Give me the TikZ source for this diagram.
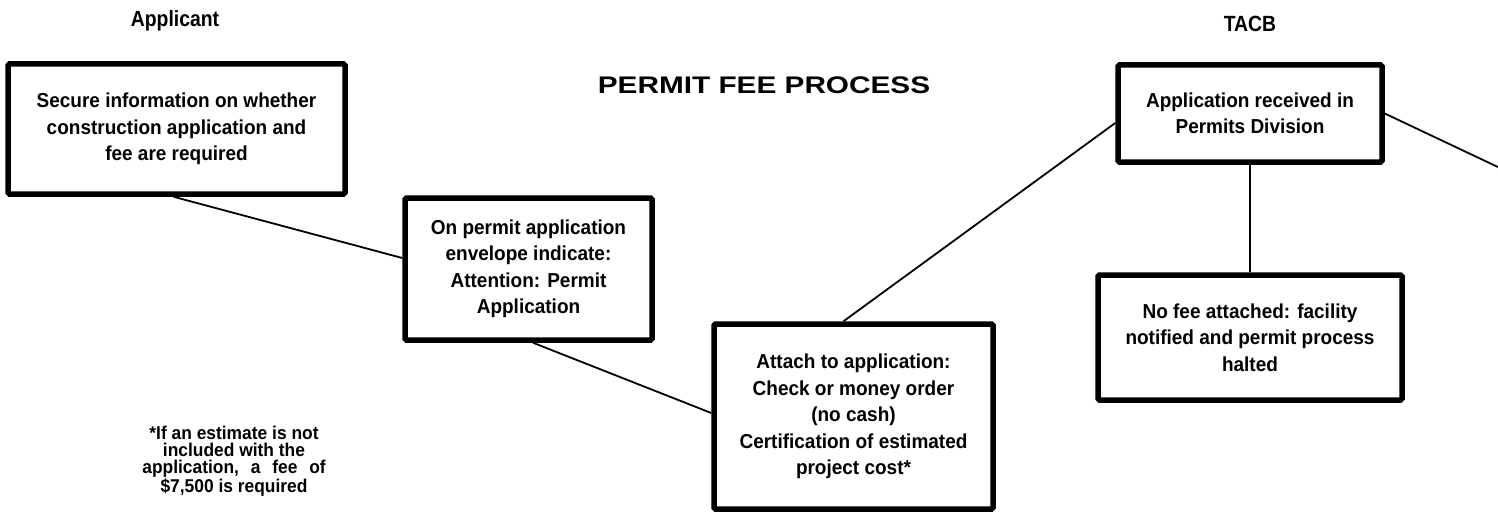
\documentclass[tikz,border=0pt]{standalone}
\usepackage{fontspec}
\setmainfont{Liberation Sans}
\newfontfamily\titlefont[FakeStretch=1.24]{Liberation Sans}
\newfontfamily\headfont[FakeStretch=0.88]{Liberation Sans}
\newfontfamily\bodyfont[FakeStretch=0.94]{Liberation Sans}
\usetikzlibrary{backgrounds}
\begin{document}
\begin{tikzpicture}[x=1pt,y=-1pt,
  box/.style={draw,line width=5.5pt,fill=white,rounded corners=1.5pt,align=center,
    font=\bodyfont\fontsize{20.2}{26.5}\selectfont\bfseries,inner sep=0pt},
  conn/.style={line width=1.8pt},
  head/.style={font=\headfont\fontsize{22}{24}\selectfont\bfseries,inner sep=0pt,anchor=base},
  note/.style={align=center,font=\bodyfont\fontsize{18.5}{17.3}\selectfont\bfseries,inner sep=0pt}]
\useasboundingbox (0,0) rectangle (1498,516);

\node[head] (applicant) at (175,27) {Applicant};
\node[head] (tacb) at (1250,32) {TACB};
\node[inner sep=0pt,font=\titlefont\fontsize{24}{28}\selectfont\bfseries] (title) at (764,85) {PERMIT FEE PROCESS};

\node[box,minimum width=337pt,minimum height=130pt] (b1) at (176.5,129)
  {Secure information on whether\\construction application and\\fee are required};
\node[box,minimum width=247pt,minimum height=142pt] (b2) at (528.5,269)
  {On permit application\\envelope indicate:\\Attention: Permit\\Application};
\node[box,minimum width=279pt,minimum height=185pt] (b3) at (853.5,416.5)
  {Attach to application:\\Check or money order\\(no cash)\\Certification of estimated\\project cost*};
\node[box,minimum width=264pt,minimum height=97pt] (t1) at (1250,113.5)
  {Application received in\\Permits Division};
\node[box,minimum width=304pt,minimum height=125pt] (t2) at (1250,337.5)
  {No fee attached: facility\\notified and permit process\\halted};

\node[note] (fn) at (234,461)
  {*If an estimate is not\\included with the\\application,\hspace{7pt} a\hspace{7pt} fee\hspace{7pt} of\\\$7,500 is required};

\coordinate (off) at (1500,168);

\begin{scope}[on background layer]
  \draw[conn] ([xshift=-3pt]b1.south) -- ([yshift=11pt]b2.west);
  \draw[conn] ([xshift=4.5pt]b2.south) -- ([yshift=3.5pt]b3.west);
  \draw[conn] ([xshift=-10pt]b3.north) -- ([yshift=-9.5pt]t1.west);
  \draw[conn] (t1.south) -- (t2.north);
  \draw[conn] (t1.east) -- (off);
\end{scope}
\end{tikzpicture}
\end{document}
